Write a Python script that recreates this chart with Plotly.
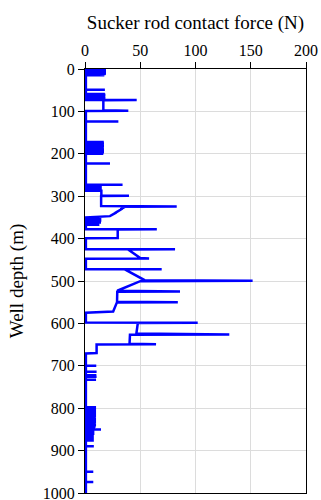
import plotly.graph_objects as go

BASE = 0.8  # resting contact force (N)

# --- isolated contact spikes: depth (m) and peak force (N) ---
spike_depth_a = [0, 1.5, 3, 4.5, 6, 7.5, 9, 10.5, 12, 13.5, 15, 49, 59, 61, 63, 65, 67, 69, 71]
spike_force_a = [18.5, 19, 18, 19, 18.5, 19, 18, 19, 18.5, 18, 17.5, 18, 18, 18.5, 17.5, 18, 18.5, 18, 17.5]

spike_depth_b = [124, 172, 174, 176, 178, 180, 182, 184, 186, 188, 190, 192, 194, 196, 198, 200, 223]
spike_force_b = [30.2, 17, 16.5, 17.2, 17, 16.8, 17.2, 17, 16.5, 17, 17.2, 16.8, 17, 17.2, 16.8, 16.5, 22.6]

spike_depth_c = [273, 275, 277, 279, 281, 283, 285]
spike_force_c = [34, 15, 15.2, 14.8, 15, 15.2, 15]

spike_depth_d = [352, 357.5, 362, 367.5]
spike_force_d = [14.8, 14.8, 14.5, 13]

spike_depth_e = [700, 714, 722, 726, 733]
spike_force_e = [10.2, 10.5, 10.3, 10.5, 10]

spike_depth_f = [798, 800, 802, 804, 806, 808, 810, 812, 814, 816, 818, 820, 822, 824, 826,
                 828, 830, 832, 834, 836, 838, 840, 842, 844, 846, 848, 850, 852, 854, 856,
                 858, 860, 862, 864, 866, 868, 870, 872, 874, 876, 890, 950, 974]
spike_force_f = [10, 9.5, 10, 9, 10, 9.5, 10, 8.5, 10, 9.5, 10, 9, 9.5, 10, 9,
                 10, 9.5, 8.5, 10, 9.5, 9, 10, 9, 9.5, 8.5, 9, 14.5, 8.5, 8, 8.5,
                 7.5, 8.5, 8, 7, 8, 7.5, 6, 8, 7, 8, 8, 7.5, 7.5]

# --- sustained contact zones (plateaus / sloped sections): depth (m), force (N) ---
zone1_depth = [73, 73, 73.5, 97, 98.5, 99]
zone1_force = [BASE, 46.8, 16.6, 16.6, 39.2, BASE]

zone2_depth = [287, 287, 299, 299, 299.5, 323, 324, 325, 331, 329, 340, 338, 347, 350]
zone2_force = [BASE, 14.8, 14.8, 39.8, 14.6, 14.6, 83, 36, 32, 34, 27, 28.5, 22.6, BASE]

zone3_depth = [378, 378, 378.5, 398.5, 399]
zone3_force = [BASE, 65, 29.6, 29.6, BASE]

zone4_depth = [425, 425, 425.5, 446, 447, 447.5]
zone4_force = [BASE, 81.5, 39, 50, 58, BASE]

zone5_depth = [472, 472, 472.5, 498, 499.5, 500.5, 523, 524.5, 525.5, 549, 550, 551, 572, 575]
zone5_force = [BASE, 69.4, 36, 54, 151.7, 50, 29.2, 86, 29.2, 29, 84, 28.8, 25.5, BASE]

zone6_depth = [598, 598.5, 599, 624, 626, 627, 648, 649, 650, 670, 671]
zone6_force = [BASE, 102, 47.8, 46.5, 130.6, 40.7, 40.3, 64.3, 10.5, 10.5, BASE]

end_depth = [1000]
end_force = [BASE]

# --- tick labels ---
x_ticks = [0, 50, 100, 150, 200]
y_ticks = [0, 100, 200, 300, 400, 500, 600, 700, 800, 900, 1000]

# ---- assemble the single force-vs-depth trace in depth order ----
pieces = []
for ds, fs in [(spike_depth_a, spike_force_a), (spike_depth_b, spike_force_b),
               (spike_depth_c, spike_force_c), (spike_depth_d, spike_force_d),
               (spike_depth_e, spike_force_e), (spike_depth_f, spike_force_f)]:
    for d, f in zip(ds, fs):
        pieces.append((d, [d, d, d], [BASE, f, BASE]))
for ds, fs in [(zone1_depth, zone1_force), (zone2_depth, zone2_force),
               (zone3_depth, zone3_force), (zone4_depth, zone4_force),
               (zone5_depth, zone5_force), (zone6_depth, zone6_force),
               (end_depth, end_force)]:
    pieces.append((ds[0], list(ds), list(fs)))
pieces.sort(key=lambda p: p[0])

depth = []
force = []
for _, ds, fs in pieces:
    depth.extend(ds)
    force.extend(fs)

fig = go.Figure()
fig.add_trace(go.Scatter(
    x=force, y=depth, mode="lines",
    line=dict(color="#0000ff", width=2.5),
    showlegend=False, hoverinfo="skip", cliponaxis=True,
))

font_family = "Liberation Serif"
fig.update_layout(
    width=321, height=500,
    margin=dict(l=85, r=15, t=69, b=7, autoexpand=False),
    paper_bgcolor="white", plot_bgcolor="white",
    font=dict(family=font_family, size=16, color="black"),
    xaxis=dict(
        side="top", range=[0, 200], tickvals=x_ticks, automargin=False,
        ticks="outside", ticklen=6, tickcolor="black", ticklabeloverflow="allow",
        showline=True, linecolor="black", linewidth=1, mirror=True,
        showgrid=True, gridcolor="#dcdcdc", gridwidth=1, zeroline=False,
        title=dict(text="Sucker rod contact force (N)", standoff=6),
    ),
    yaxis=dict(
        range=[1000, 0], tickvals=y_ticks, automargin=False,
        ticks="outside", ticklen=6, tickcolor="black", ticklabeloverflow="allow",
        showline=True, linecolor="black", linewidth=1, mirror=True,
        showgrid=True, gridcolor="#dcdcdc", gridwidth=1, zeroline=False,
        title=dict(text="Well depth (m)", standoff=14),
    ),
)

# remove the default page margin so the 321x500 figure fills the window exactly
page_js = "document.body.style.margin='0';document.body.style.overflow='hidden';"
fig.write_html("out.html", post_script=page_js, config={"displayModeBar": False})
